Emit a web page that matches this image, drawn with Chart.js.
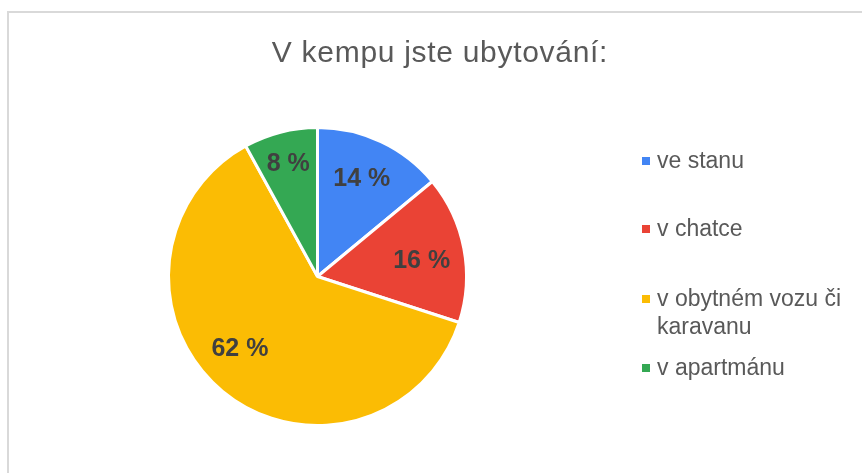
<!DOCTYPE html>
<html>
<head>
<meta charset="utf-8">
<script src="https://cdn.jsdelivr.net/npm/chart.js@4/dist/chart.umd.min.js"></script>
<style>
  html, body { margin: 0; padding: 0; background: #fff; }
  #wrap { position: relative; width: 862px; height: 473px; overflow: hidden; }
  #frame { position: absolute; left: 7px; top: 11px; width: 900px; height: 500px;
           border-left: 2px solid #d9d9d9; border-top: 2px solid #d9d9d9; }
  #myChart { position: absolute; left: 0; top: 0; }
</style>
</head>
<body>
<div id="wrap">
  <div id="frame"></div>
  <canvas id="myChart" width="862" height="473"></canvas>
</div>
<script>
// data
const titleText = "V kempu jste ubytování:";
const categories = ["ve stanu", "v chatce", "v obytném vozu či karavanu", "v apartmánu"];
const percentValues = [14, 16, 62, 8];
const sliceColors = ["#4285F4", "#EA4335", "#FBBC04", "#34A853"];

// draws title, percentage labels and the legend on the right
const decorPlugin = {
  id: "decor",
  afterDatasetsDraw(chart, args, opts) {
    const ctx = chart.ctx;
    ctx.save();

    // title
    ctx.fillStyle = "#595959";
    ctx.font = "30px 'Liberation Sans', Arial, sans-serif";
    ctx.letterSpacing = "0.7px";
    ctx.textAlign = "center";
    ctx.textBaseline = "alphabetic";
    ctx.fillText(titleText, opts.titleX, opts.titleY);
    ctx.letterSpacing = "0px";

    // percentages on the slices
    const meta = chart.getDatasetMeta(0);
    ctx.font = "bold 25px 'Liberation Sans', Arial, sans-serif";
    ctx.fillStyle = "#404040";
    ctx.textBaseline = "middle";
    meta.data.forEach((arc, i) => {
      const p = arc.getProps(["x", "y", "startAngle", "endAngle", "outerRadius"], true);
      const mid = (p.startAngle + p.endAngle) / 2 + opts.labelShift[i] * Math.PI / 180;
      const r = p.outerRadius * opts.labelRadius[i];
      const val = chart.data.datasets[0].data[i];
      ctx.fillText(val + " %", p.x + Math.cos(mid) * r, p.y + Math.sin(mid) * r + 1);
    });

    // legend
    ctx.textAlign = "left";
    ctx.textBaseline = "alphabetic";
    ctx.font = "23px 'Liberation Sans', Arial, sans-serif";
    chart.data.labels.forEach((label, i) => {
      const y = opts.legendY[i];
      ctx.fillStyle = sliceColors[i];
      ctx.fillRect(opts.legendX, y - 4, 8, 8);
      // simple word wrap
      const words = label.split(" ");
      let lines = [], line = "";
      words.forEach(w => {
        const test = line ? line + " " + w : w;
        if (ctx.measureText(test).width > opts.legendWrap && line) {
          lines.push(line);
          line = w;
        } else {
          line = test;
        }
      });
      lines.push(line);
      ctx.fillStyle = "#595959";
      lines.forEach((t, k) => {
        ctx.fillText(t, opts.legendX + 15, y + 7 + k * 27.5);
      });
    });

    ctx.restore();
  }
};

let ctx = document.getElementById("myChart").getContext("2d");
let myChart = new Chart(ctx, {
  type: "pie",
  data: {
    labels: categories,
    datasets: [
      {
        data: percentValues,
        backgroundColor: sliceColors,
        borderColor: "#ffffff",
        borderWidth: 3
      }
    ]
  },
  options: {
    responsive: false,
    animation: false,
    radius: 149,
    layout: {
      padding: { left: 170, right: 397, top: 129, bottom: 49 }
    },
    plugins: {
      legend: { display: false },
      tooltip: { enabled: false },
      title: { display: false },
      decor: {
        titleX: 440,
        titleY: 62,
        labelRadius: [0.724, 0.708, 0.707, 0.789],
        labelShift: [-1, 1.7, 7.8, 0],
        legendX: 642,
        legendY: [161, 229, 299, 368],
        legendWrap: 196
      }
    }
  },
  plugins: [decorPlugin]
});
</script>
</body>
</html>
